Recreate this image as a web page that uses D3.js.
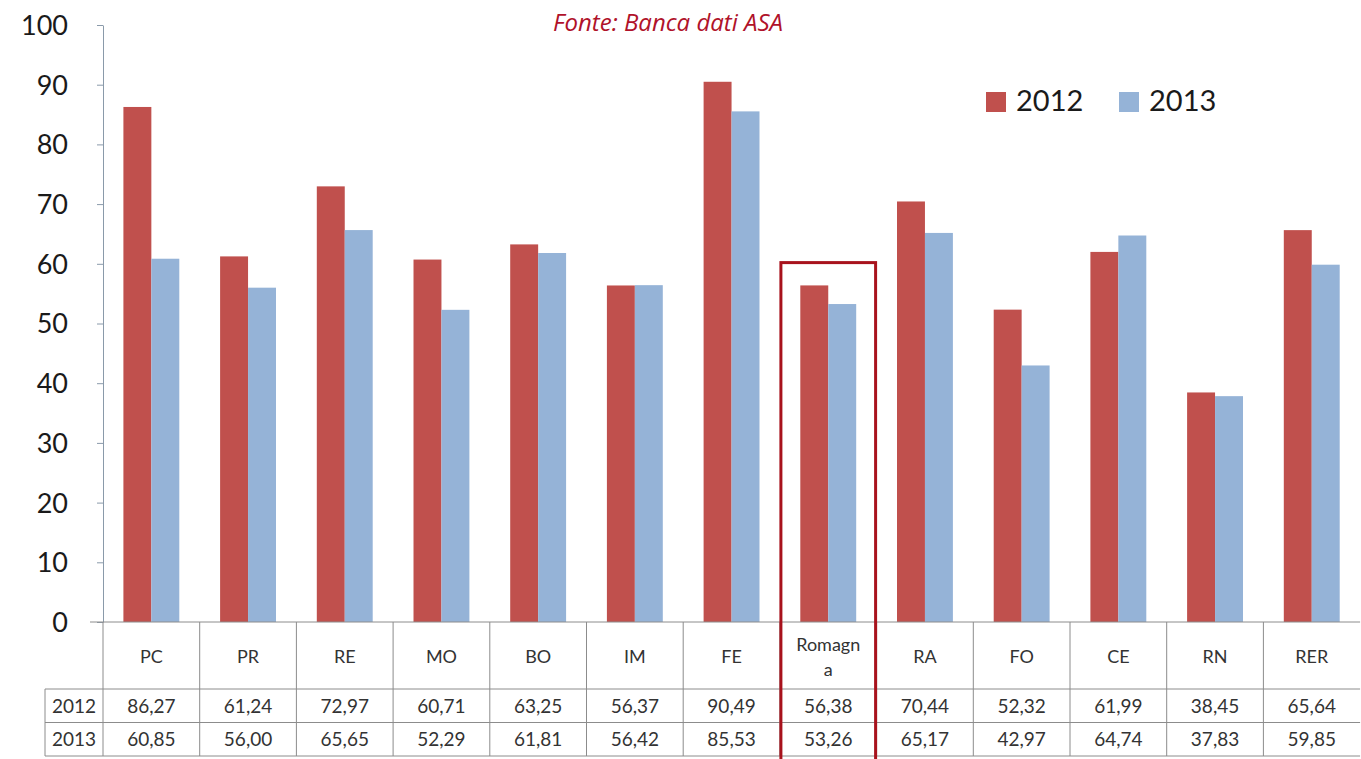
<!DOCTYPE html>
<html>
<head>
<meta charset="utf-8">
<style>
body { margin: 0; background: #fff; }
svg { display: block; font-family: Lato, "Open Sans", sans-serif; }
.axis--y path { stroke: #8a9aaa; }
.axis--y line { stroke: #8a9aaa; }
.axis--y text { font-size: 27px; fill: #1a1a1a; font-family: Lato, sans-serif; }
.grid line { stroke: #8c8c8c; stroke-width: 1; }
.cell { font-size: 19px; fill: #333; text-anchor: middle; }
</style>
</head>
<body>
<svg width="1361" height="759"></svg>
<script src="https://d3js.org/d3.v7.min.js"></script>
<script>

var categories = ["PC", "PR", "RE", "MO", "BO", "IM", "FE", "Romagna", "RA", "FO", "CE", "RN", "RER"];
var values2012 = [86.27, 61.24, 72.97, 60.71, 63.25, 56.37, 90.49, 56.38, 70.44, 52.32, 61.99, 38.45, 65.64];
var values2013 = [60.85, 56.00, 65.65, 52.29, 61.81, 56.42, 85.53, 53.26, 65.17, 42.97, 64.74, 37.83, 59.85];
var seriesNames = ["2012", "2013"];
var yTicks = [0, 10, 20, 30, 40, 50, 60, 70, 80, 90, 100];
var highlight = "Romagna";
var highlightTop = 60.2;

var colors = {"2012": "#c0504d", "2013": "#95b3d7"};

var svg = d3.select("svg"),
    plotLeft = 103,
    colW = 96.7,
    plotTop = 25,
    zeroY = 622;

var x = d3.scaleBand().domain(categories).range([plotLeft, plotLeft + colW * categories.length]),
    xs = d3.scaleBand().domain(seriesNames).range([0, x.bandwidth()]).paddingOuter(0.73),
    y = d3.scaleLinear().domain([0, 100]).range([zeroY, plotTop]);

var it = d3.formatLocale({decimal: ",", thousands: ".", grouping: [3], currency: ["", "€"]});
var fmt = it.format(".2f");

var rows = categories.map(function(c, i) {
  return {cat: c, "2012": values2012[i], "2013": values2013[i]};
});

// bars
var groups = svg.append("g").selectAll("g")
  .data(rows)
  .enter().append("g")
    .attr("transform", function(d) { return "translate(" + x(d.cat) + ",0)"; });

groups.selectAll("rect")
  .data(function(d) { return seriesNames.map(function(s) { return {s: s, v: d[s]}; }); })
  .enter().append("rect")
    .attr("x", function(d) { return xs(d.s); })
    .attr("y", function(d) { return y(d.v); })
    .attr("width", xs.bandwidth())
    .attr("height", function(d) { return zeroY - y(d.v); })
    .attr("fill", function(d) { return colors[d.s]; });

// y axis
svg.append("g")
    .attr("class", "axis axis--y")
    .attr("transform", "translate(" + plotLeft + ",0)")
    .call(d3.axisLeft(y).tickValues(yTicks).tickSize(6).tickPadding(29).tickSizeOuter(0))
    .call(function(g) { g.selectAll("text").attr("dy", "0.35em"); });

// data table
var tableRight = x.range()[1],
    catBottom = 689,
    rowH = 33.5,
    headLeft = 45;

var grid = svg.append("g").attr("class", "grid");
grid.append("line").attr("x1", 90).attr("x2", tableRight).attr("y1", zeroY).attr("y2", zeroY);
[catBottom, catBottom + rowH, catBottom + 2 * rowH].forEach(function(yy) {
  grid.append("line").attr("x1", headLeft).attr("x2", tableRight).attr("y1", yy).attr("y2", yy);
});
grid.append("line").attr("x1", headLeft).attr("x2", headLeft).attr("y1", catBottom).attr("y2", catBottom + 2 * rowH);
categories.forEach(function(c) {
  grid.append("line").attr("x1", x(c)).attr("x2", x(c)).attr("y1", zeroY).attr("y2", catBottom + 2 * rowH);
});

var catLabels = svg.append("g").selectAll("text")
  .data(categories)
  .enter().append("text")
    .attr("class", "cell")
    .attr("x", function(d) { return x(d) + x.bandwidth() / 2; })
    .attr("y", 663)
    .style("font-size", "18px");

catLabels.each(function(d) {
  var t = d3.select(this);
  if (d === highlight) {
    t.attr("y", 651);
    t.append("tspan").attr("x", x(d) + x.bandwidth() / 2).text(d.slice(0, 6));
    t.append("tspan").attr("x", x(d) + x.bandwidth() / 2).attr("dy", 25).text(d.slice(6));
  } else {
    t.text(d);
  }
});

seriesNames.forEach(function(s, r) {
  var cy = catBottom + rowH * r + rowH / 2 + 7;
  svg.append("text").attr("class", "cell").attr("x", (headLeft + plotLeft) / 2).attr("y", cy).text(s);
  svg.append("g").selectAll("text")
    .data(rows)
    .enter().append("text")
      .attr("class", "cell")
      .attr("x", function(d) { return x(d.cat) + x.bandwidth() / 2; })
      .attr("y", cy)
      .text(function(d) { return fmt(d[s]); });
});

// highlight box
svg.append("rect")
    .attr("x", x(highlight) + 1)
    .attr("y", y(highlightTop))
    .attr("width", x.bandwidth() - 2)
    .attr("height", 759 - y(highlightTop) + 5)
    .attr("fill", "none")
    .attr("stroke", "#a8121c")
    .attr("stroke-width", 3);

// title
svg.append("text")
    .attr("x", 668)
    .attr("y", 31)
    .attr("text-anchor", "middle")
    .attr("font-family", "'Open Sans', sans-serif")
    .attr("font-style", "italic")
    .attr("font-size", 24)
    .attr("fill", "#b0122a")
    .text("Fonte: Banca dati ASA");

// legend
var legend = svg.append("g").selectAll("g")
  .data(seriesNames)
  .enter().append("g")
    .attr("transform", function(d, i) { return "translate(" + (986 + i * 133) + ",92)"; });

legend.append("rect")
    .attr("width", 20).attr("height", 20)
    .attr("fill", function(d) { return colors[d]; });

legend.append("text")
    .attr("x", 30).attr("y", 19)
    .attr("font-size", 29)
    .attr("fill", "#1a1a1a")
    .text(function(d) { return d; });

</script>
</body>
</html>
